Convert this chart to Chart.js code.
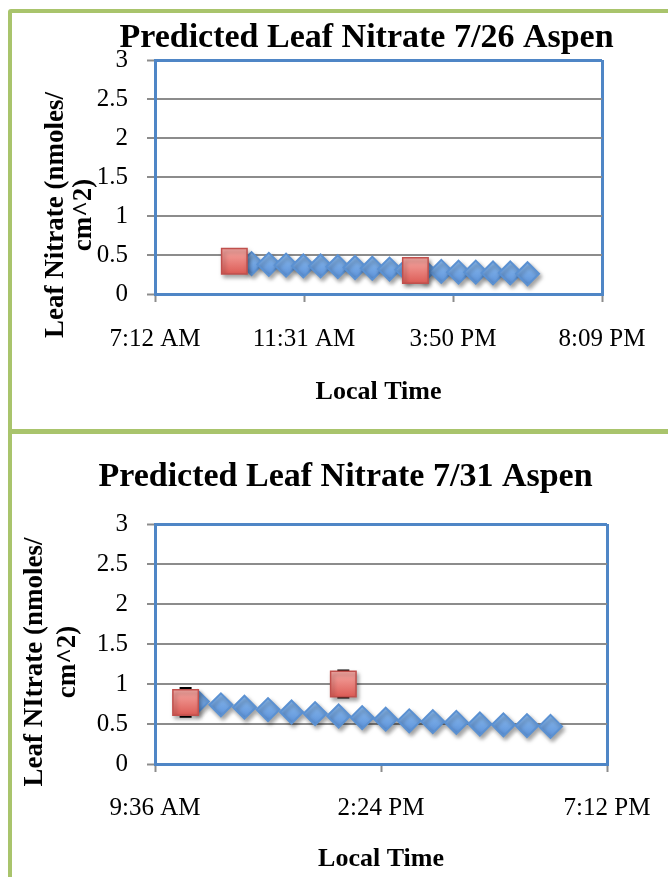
<!DOCTYPE html>
<html>
<head>
<meta charset="utf-8">
<script src="https://cdn.jsdelivr.net/npm/chart.js@4.4.1/dist/chart.umd.min.js"></script>
<style>
  body { margin: 0; background: #fff; width: 668px; height: 877px; overflow: hidden; position: relative; }
  .frame { position: absolute; left: 8px; width: 720px; box-sizing: border-box; border: 4px solid #a9c46c; border-radius: 3px; }
  #frame1 { top: 9px; height: 425px; }
  #frame2 { top: 429px; height: 520px; }
  canvas { position: absolute; left: 12px; }
  #chart1 { top: 13px; }
  #chart2 { top: 433px; }
</style>
</head>
<body>
<div class="frame" id="frame1"></div>
<div class="frame" id="frame2"></div>
<canvas id="chart1" width="656" height="416"></canvas>
<canvas id="chart2" width="656" height="444"></canvas>
<script>
var yTickLabels = ['0', '0.5', '1', '1.5', '2', '2.5', '3'];

// 7/26 chart
var xTickValues26 = [7.2, 11.52, 15.84, 20.16];
var xTickLabels26 = ['7:12 AM', '11:31 AM', '3:50 PM', '8:09 PM'];
var modelTimes26 = [10, 10.5, 11, 11.5, 12, 12.5, 13, 13.5, 14, 14.5, 15, 15.5, 16, 16.5, 17, 17.5, 18];
var modelNitrate26 = [0.39, 0.38, 0.37, 0.36, 0.36, 0.35, 0.34, 0.33, 0.32, 0.31, 0.30, 0.29, 0.28, 0.28, 0.27, 0.27, 0.26];
var obsTimes26 = [9.5, 14.75];
var obsNitrate26 = [0.42, 0.30];
var obsError26 = [0, 0];

// 7/31 chart
var xTickValues31 = [9.6, 14.4, 19.2];
var xTickLabels31 = ['9:36 AM', '2:24 PM', '7:12 PM'];
var modelTimes31 = [10.5, 11, 11.5, 12, 12.5, 13, 13.5, 14, 14.5, 15, 15.5, 16, 16.5, 17, 17.5, 18];
var modelNitrate31 = [0.78, 0.74, 0.71, 0.68, 0.65, 0.63, 0.60, 0.58, 0.56, 0.54, 0.53, 0.52, 0.50, 0.49, 0.48, 0.47];
var obsTimes31 = [10.25, 13.6];
var obsNitrate31 = [0.77, 1.00];
var obsError31 = [0.18, 0.17];

var BLUE_EDGE = '#4f86c6';
var GRID = '#8c8c8c';

Chart.defaults.font.family = "'Liberation Serif', serif";
Chart.defaults.color = '#000';

function pts(xs, ys) {
  var out = [];
  for (var i = 0; i < xs.length; i++) out.push({x: xs[i], y: ys[i]});
  return out;
}

function grad(top, bottom, r) {
  return function (c) {
    if (c.type !== 'data' || !c.parsed) return bottom;
    var yp = c.chart.scales.y ? c.chart.scales.y.getPixelForValue(c.parsed.y) : NaN;
    if (!isFinite(yp)) return bottom;
    var g = c.chart.ctx.createLinearGradient(0, yp - r, 0, yp + r);
    g.addColorStop(0, top);
    g.addColorStop(1, bottom);
    return g;
  };
}

var shadowPlugin = {
  id: 'shadow',
  beforeDatasetDraw: function (chart) {
    var ctx = chart.ctx;
    ctx.save();
    ctx.shadowColor = 'rgba(0,0,0,0.35)';
    ctx.shadowBlur = 4;
    ctx.shadowOffsetX = 2;
    ctx.shadowOffsetY = 3;
  },
  afterDatasetDraw: function (chart) {
    chart.ctx.restore();
  }
};

var errorPlugin = {
  id: 'errbars',
  beforeDatasetsDraw: function (chart) {
    var ctx = chart.ctx, xs = chart.scales.x, ys = chart.scales.y;
    chart.data.datasets.forEach(function (ds) {
      if (!ds.errors) return;
      ctx.save();
      ctx.strokeStyle = '#000';
      ctx.lineWidth = 2;
      ds.data.forEach(function (p, i) {
        var e = ds.errors[i];
        if (!e) return;
        var px = xs.getPixelForValue(p.x);
        var y1 = ys.getPixelForValue(p.y + e), y2 = ys.getPixelForValue(p.y - e);
        ctx.beginPath();
        ctx.moveTo(px, y1); ctx.lineTo(px, y2);
        ctx.moveTo(px - 6, y1); ctx.lineTo(px + 6, y1);
        ctx.moveTo(px - 6, y2); ctx.lineTo(px + 6, y2);
        ctx.stroke();
      });
      ctx.restore();
    });
  }
};

// two-line rotated y axis title, placed like the original
var yTitlePlugin = {
  id: 'yTitle',
  afterDraw: function (chart, args, opts) {
    var ctx = chart.ctx;
    ctx.save();
    ctx.font = "bold 27px 'Liberation Serif', serif";
    ctx.fillStyle = '#000';
    ctx.textAlign = 'center';
    ctx.textBaseline = 'middle';
    opts.lines.forEach(function (line, i) {
      ctx.save();
      ctx.translate(opts.x[i], opts.y);
      ctx.rotate(-Math.PI / 2);
      ctx.fillText(line, 0, 0);
      ctx.restore();
    });
    ctx.restore();
  }
};

function makeChart(id, c) {
  return new Chart(document.getElementById(id), {
    type: 'scatter',
    data: {
      datasets: [{
        label: 'Observed',
        data: pts(c.obsTimes, c.obsNitrate),
        errors: c.obsError,
        xAxisID: 'x',
        yAxisID: 'y',
        order: 0,
        pointStyle: 'rect',
        pointRadius: 18,
        pointHoverRadius: 18,
        pointBorderWidth: 1.5,
        pointBorderColor: '#c0504d',
        pointBackgroundColor: grad('#f6aaa5', '#dc5b55', 13)
      }, {
        label: 'Predicted',
        data: pts(c.modelTimes, c.modelNitrate),
        xAxisID: 'x',
        yAxisID: 'y',
        order: 1,
        pointStyle: 'rectRot',
        pointRadius: 11.5,
        pointHoverRadius: 11.5,
        pointBorderWidth: 2,
        pointBorderColor: '#5b91d2',
        pointBackgroundColor: grad('#8cbcf0', '#5c92d9', 11)
      }]
    },
    options: {
      responsive: false,
      animation: false,
      events: [],
      layout: { padding: { left: c.padLeft, right: c.padRight, top: 0, bottom: 0 } },
      plugins: {
        legend: { display: false },
        tooltip: { enabled: false },
        title: {
          display: true,
          text: c.title,
          color: '#000',
          font: { size: 34, weight: 'bold' },
          padding: { top: c.titleTop, bottom: c.titleBottom }
        },
        yTitle: { lines: c.yTitle, x: c.yTitleX, y: c.yTitleY }
      },
      scales: {
        x: {
          type: 'linear',
          min: c.xTickValues[0],
          max: c.xTickValues[c.xTickValues.length - 1],
          afterBuildTicks: function (axis) {
            axis.ticks = c.xTickValues.map(function (v) { return {value: v}; });
          },
          afterFit: function (axis) {
            axis.height = c.xHeight;
            axis.paddingLeft = 0;
            axis.paddingRight = 0;
          },
          ticks: {
            autoSkip: false,
            maxRotation: 0,
            padding: c.xTickPad,
            font: { size: 25 },
            callback: function (v, i) { return c.xTickLabels[i]; }
          },
          grid: {
            tickLength: 8,
            tickColor: GRID,
            tickWidth: 2,
            color: function (ctx) {
              return ctx.index === c.xTickValues.length - 1 ? BLUE_EDGE : 'rgba(0,0,0,0)';
            },
            lineWidth: 3
          },
          border: { display: true, color: BLUE_EDGE, width: 3 },
          title: {
            display: true,
            text: 'Local Time',
            color: '#000',
            font: { size: 26, weight: 'bold' },
            padding: { top: 0, bottom: c.xTitleBottom }
          }
        },
        y: {
          position: 'left',
          min: 0,
          max: 3,
          afterFit: function (axis) {
            axis.width = c.yWidth;
            axis.paddingTop = 0;
            axis.paddingBottom = 0;
          },
          ticks: {
            stepSize: 0.5,
            padding: 19,
            font: { size: 25 },
            callback: function (v, i) { return yTickLabels[i]; }
          },
          grid: {
            tickLength: 8,
            tickColor: GRID,
            tickWidth: 2,
            color: function (ctx) {
              return (ctx.tick && (ctx.tick.value === 3 || ctx.tick.value === 0)) ? BLUE_EDGE : GRID;
            },
            lineWidth: function (ctx) {
              return (ctx.tick && (ctx.tick.value === 3 || ctx.tick.value === 0)) ? 3 : 2;
            }
          },
          border: { display: true, color: BLUE_EDGE, width: 3 }
        },
        // empty spacer on the right so the title sits where the original has it
        gap: {
          type: 'linear',
          position: 'right',
          display: true,
          grid: { display: false },
          border: { display: false },
          ticks: { display: false },
          afterFit: function (axis) { axis.width = c.rightGap; }
        }
      }
    },
    plugins: [shadowPlugin, errorPlugin, yTitlePlugin]
  });
}

makeChart('chart1', {
  title: 'Predicted Leaf Nitrate 7/26 Aspen',
  yTitle: ['Leaf Nitrate (nmoles/', 'cm^2)'],
  yTitleX: [44, 72],
  yTitleY: 202,
  xTickValues: xTickValues26,
  xTickLabels: xTickLabels26,
  modelTimes: modelTimes26,
  modelNitrate: modelNitrate26,
  obsTimes: obsTimes26,
  obsNitrate: obsNitrate26,
  obsError: obsError26,
  padLeft: 80,
  padRight: 27,
  yWidth: 63,
  rightGap: 39,
  xHeight: 135,
  titleTop: 5,
  titleBottom: 1.2,
  xTickPad: 22,
  xTitleBottom: 21
});

makeChart('chart2', {
  title: 'Predicted Leaf Nitrate 7/31 Aspen',
  yTitle: ['Leaf NItrate (nmoles/', 'cm^2)'],
  yTitleX: [23, 56],
  yTitleY: 229,
  xTickValues: xTickValues31,
  xTickLabels: xTickLabels31,
  modelTimes: modelTimes31,
  modelNitrate: modelNitrate31,
  obsTimes: obsTimes31,
  obsNitrate: obsNitrate31,
  obsError: obsError31,
  padLeft: 72,
  padRight: 61,
  yWidth: 71,
  rightGap: 0,
  xHeight: 113,
  titleTop: 24,
  titleBottom: 26.2,
  xTickPad: 21,
  xTitleBottom: 2
});
</script>
</body>
</html>
